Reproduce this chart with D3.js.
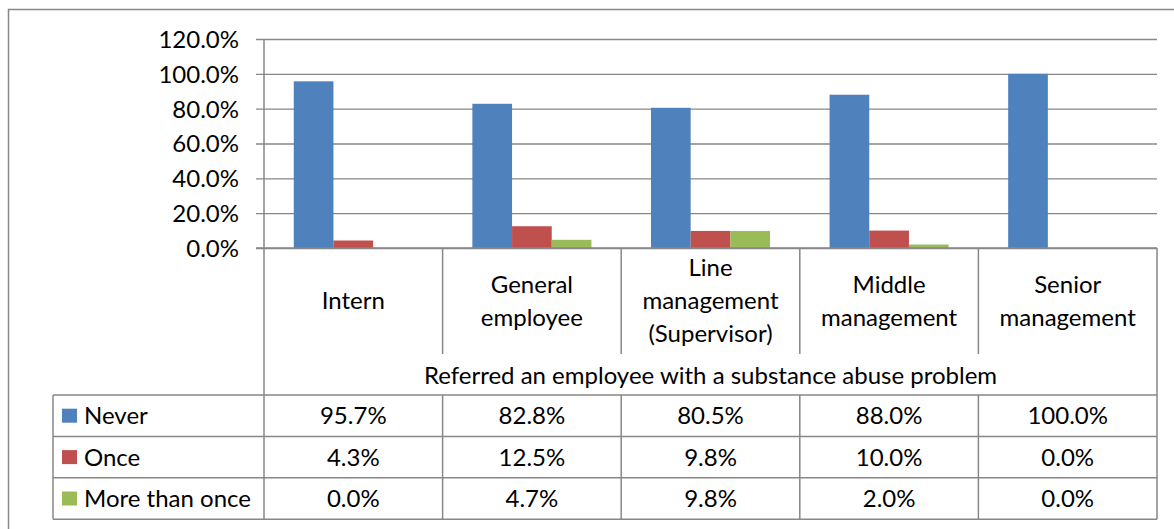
<!DOCTYPE html>
<html>
<head>
<meta charset="utf-8">
<script src="https://cdn.jsdelivr.net/npm/d3@7"></script>
<style>
  body { margin: 0; background: #fff; }
  svg text { font-family: Lato, "Open Sans", sans-serif; fill: #000; }
</style>
</head>
<body>
<svg width="1174" height="529"></svg>
<script>
// chart values
var categories = [["Intern"], ["General", "employee"], ["Line", "management", "(Supervisor)"], ["Middle", "management"], ["Senior", "management"]];
var seriesNames = ["Never", "Once", "More than once"];
var never = [0.957, 0.828, 0.805, 0.880, 1.000];
var once = [0.043, 0.125, 0.098, 0.100, 0.000];
var moreThanOnce = [0.000, 0.047, 0.098, 0.020, 0.000];
var yTicks = [0, 0.2, 0.4, 0.6, 0.8, 1.0, 1.2];
var axisTitle = "Referred an employee with a substance abuse problem";

var colors = ["#4F81BD", "#C0504D", "#9BBB59"];
var series = [never, once, moreThanOnce];
var fs = 24;

var svg = d3.select("svg");
var plotLeft = 264, plotRight = 1157, plotTop = 39, plotBottom = 248;
var tableLeft = 53, headBottom = 354, titleBottom = 395, rowH = 41.4;
var grid = "#878787";

// outer frame
svg.append("rect")
  .attr("x", 8.5).attr("y", 9.5)
  .attr("width", 1200).attr("height", 600)
  .attr("fill", "none").attr("stroke", grid).attr("stroke-width", 1.5);

var x = d3.scaleBand().domain(d3.range(categories.length)).range([plotLeft, plotRight]);
var xs = d3.scaleBand().domain(d3.range(series.length))
  .range([0, x.bandwidth()]).paddingOuter(0.75).paddingInner(0);
var y = d3.scaleLinear().domain([0, 1.2]).range([plotBottom, plotTop]);

// gridlines + y axis labels
var yAxis = d3.axisLeft(y).tickValues(yTicks)
  .tickFormat(d3.format(".1%"))
  .tickSize(-(plotRight - plotLeft));
var ga = svg.append("g").attr("transform", "translate(" + plotLeft + ",0)").call(yAxis);
ga.select(".domain").remove();
ga.selectAll(".tick line").attr("stroke", grid).attr("stroke-width", 1.4).attr("x1", -8);
ga.selectAll(".tick text").attr("x", -25).attr("font-size", fs + "px").attr("dy", "0.35em")
  .style("font-family", "Lato, sans-serif");

// bars
series.forEach(function(vals, si) {
  svg.append("g").selectAll("rect")
    .data(vals)
    .enter().append("rect")
    .attr("x", function(d, i) { return x(i) + xs(si); })
    .attr("width", xs.bandwidth())
    .attr("y", function(d) { return y(d); })
    .attr("height", function(d) { return plotBottom - y(d); })
    .attr("fill", colors[si]);
});

// table lines
var lines = svg.append("g").attr("stroke", grid).attr("stroke-width", 1.5);
var tableBottom = titleBottom + rowH * 3;
lines.append("line").attr("x1", plotLeft).attr("x2", plotLeft).attr("y1", plotTop).attr("y2", tableBottom);
lines.append("line").attr("x1", plotRight).attr("x2", plotRight).attr("y1", plotBottom).attr("y2", tableBottom);
lines.append("line").attr("x1", plotLeft - 8).attr("x2", plotRight).attr("y1", plotBottom).attr("y2", plotBottom);
lines.append("line").attr("x1", tableLeft).attr("x2", tableLeft).attr("y1", titleBottom).attr("y2", tableBottom);
d3.range(1, categories.length).forEach(function(i) {
  lines.append("line").attr("x1", x(i)).attr("x2", x(i)).attr("y1", plotBottom).attr("y2", headBottom);
  lines.append("line").attr("x1", x(i)).attr("x2", x(i)).attr("y1", titleBottom).attr("y2", tableBottom);
});
d3.range(4).forEach(function(r) {
  var yy = titleBottom + r * rowH;
  lines.append("line").attr("x1", tableLeft).attr("x2", plotRight).attr("y1", yy).attr("y2", yy);
});

// category labels
categories.forEach(function(lab, i) {
  var t = svg.append("text")
    .attr("text-anchor", "middle")
    .attr("font-size", fs + "px");
  var lh = 33, cy = (plotBottom + headBottom) / 2;
  lab.forEach(function(s, k) {
    t.append("tspan")
      .attr("x", x(i) + x.bandwidth() / 2)
      .attr("y", cy + (k - (lab.length - 1) / 2) * lh)
      .attr("dy", "0.35em")
      .text(s);
  });
});

svg.append("text")
  .attr("x", (plotLeft + plotRight) / 2).attr("y", (headBottom + titleBottom) / 2 + 1)
  .attr("dy", "0.35em").attr("text-anchor", "middle")
  .attr("font-size", fs + "px").text(axisTitle);

// data rows with legend keys
var fmt = d3.format(".1%");
series.forEach(function(vals, si) {
  var cy = titleBottom + si * rowH + rowH / 2;
  svg.append("rect").attr("x", 62).attr("y", cy - 7).attr("width", 15).attr("height", 14)
    .attr("fill", colors[si]);
  svg.append("text").attr("x", 84).attr("y", cy).attr("dy", "0.35em")
    .attr("font-size", fs + "px").text(seriesNames[si]);
  svg.append("g").selectAll("text")
    .data(vals)
    .enter().append("text")
    .attr("x", function(d, i) { return x(i) + x.bandwidth() / 2; })
    .attr("y", cy).attr("dy", "0.35em")
    .attr("text-anchor", "middle")
    .attr("font-size", fs + "px")
    .text(function(d) { return fmt(d); });
});
</script>
</body>
</html>
